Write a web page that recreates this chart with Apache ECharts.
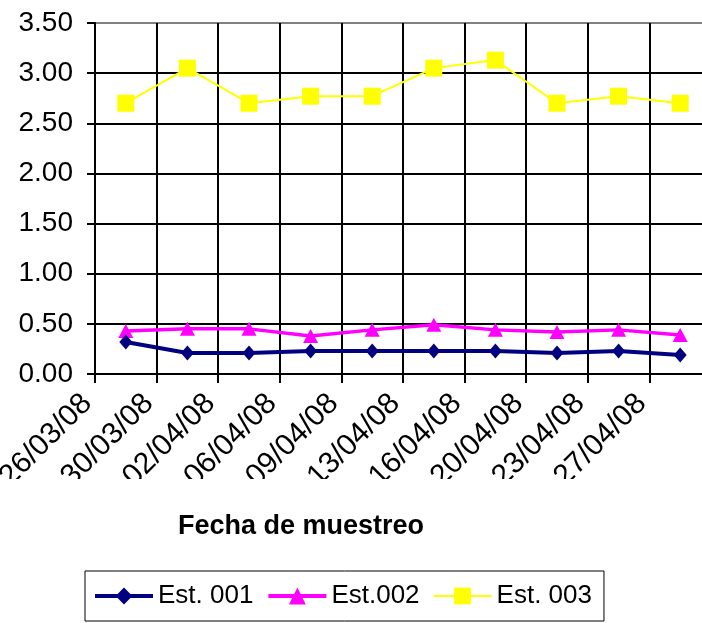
<!DOCTYPE html>
<html>
<head>
<meta charset="utf-8">
<script src="https://cdn.jsdelivr.net/npm/echarts@6/dist/echarts.min.js"></script>
<style>
  html, body { margin: 0; padding: 0; background: #fff; }
  #chart { width: 702px; height: 623px; }
</style>
</head>
<body>
<div id="chart"></div>
<script>
// Date tick labels sit on the boundaries between sampling slots
const tickDates = ['26/03/08', '30/03/08', '02/04/08', '06/04/08', '09/04/08',
                   '13/04/08', '16/04/08', '20/04/08', '23/04/08', '27/04/08'];
// One slot per sampling campaign
const samples = ['M1', 'M2', 'M3', 'M4', 'M5', 'M6', 'M7', 'M8', 'M9', 'M10'];

const est001 = [0.32, 0.21, 0.21, 0.23, 0.23, 0.23, 0.23, 0.21, 0.23, 0.19];
const est002 = [0.43, 0.45, 0.45, 0.38, 0.44, 0.49, 0.44, 0.42, 0.44, 0.39];
const est003 = [2.70, 3.05, 2.70, 2.77, 2.77, 3.05, 3.13, 2.70, 2.77, 2.70];

const FONT = 'Liberation Sans, Arial, sans-serif';

const chart = echarts.init(document.getElementById('chart'), null, { renderer: 'canvas' });

// horizontal grid: black lines, plot-area top edge in grey
const hLineColors = ['#000', '#000', '#000', '#000', '#000', '#000', '#000', '#808080'];

chart.setOption({
  animation: false,
  backgroundColor: '#fff',
  title: {
    text: 'Fecha de muestreo',
    left: 178,
    top: 513,
    padding: 0,
    textStyle: { fontFamily: FONT, fontSize: 27, fontWeight: 'bold', color: '#000' }
  },
  legend: {
    data: [
      { name: 'Est. 001', lineStyle: { width: 4 } },
      { name: 'Est.002', lineStyle: { width: 4 } },
      { name: 'Est. 003', lineStyle: { width: 2 } }
    ],
    left: 85,
    top: 571,
    orient: 'horizontal',
    padding: [12, 12, 12, 8],
    itemGap: 13,
    itemWidth: 58,
    itemHeight: 21,
    borderColor: '#000',
    borderWidth: 1,
    backgroundColor: '#fff',
    textStyle: { fontFamily: FONT, fontSize: 26, color: '#000' }
  },
  grid: {
    left: 95, right: -9, top: 23, bottom: 249,
    containLabel: false,
    outerBoundsMode: 'none'
  },
  xAxis: [
    {
      type: 'category',
      data: samples,
      boundaryGap: true,
      axisLine: { show: true, lineStyle: { color: '#000', width: 2 } },
      axisTick: { show: true, length: 9, lineStyle: { color: '#000', width: 2 } },
      axisLabel: { show: false },
      splitLine: { show: true, lineStyle: { color: '#000', width: 2 } }
    },
    {
      type: 'category',
      data: tickDates.concat(['']),
      boundaryGap: false,
      position: 'bottom',
      axisLine: { show: false },
      axisTick: { show: false },
      splitLine: { show: false },
      axisLabel: {
        interval: 0,
        rotate: 45,
        margin: 17,
        padding: [0, 11, 0, 0],
        fontFamily: FONT,
        fontSize: 30,
        color: '#000'
      }
    }
  ],
  yAxis: {
    type: 'value',
    min: 0,
    max: 3.5,
    interval: 0.5,
    axisLine: { show: true, lineStyle: { color: '#000', width: 2 } },
    axisTick: { show: true, length: 8, lineStyle: { color: '#000', width: 2 } },
    axisLabel: {
      margin: 22,
      fontFamily: FONT,
      fontSize: 28,
      color: '#000',
      formatter: v => v.toFixed(2)
    },
    splitLine: { show: true, lineStyle: { color: hLineColors, width: 2 } }
  },
  graphic: [
    {
      // clips the lower ends of the rotated date labels
      type: 'rect',
      left: 0,
      top: 479,
      z: 100,
      shape: { width: 702, height: 26 },
      style: { fill: '#fff' }
    }
  ],
  series: [
    {
      name: 'Est. 003',
      type: 'line',
      xAxisIndex: 0,
      data: est003,
      symbol: 'rect',
      symbolSize: 17,
      showAllSymbol: true,
      itemStyle: { color: '#FFFF00' },
      lineStyle: { color: '#FFFF00', width: 2 },
      z: 2
    },
    {
      name: 'Est.002',
      type: 'line',
      xAxisIndex: 0,
      data: est002,
      symbol: 'triangle',
      symbolSize: [15, 14],
      showAllSymbol: true,
      itemStyle: { color: '#FF00FF' },
      lineStyle: { color: '#FF00FF', width: 3.5 },
      z: 3
    },
    {
      name: 'Est. 001',
      type: 'line',
      xAxisIndex: 0,
      data: est001,
      symbol: 'diamond',
      symbolSize: [13, 15],
      showAllSymbol: true,
      itemStyle: { color: '#000080' },
      lineStyle: { color: '#000080', width: 4 },
      z: 4
    }
  ]
});
</script>
</body>
</html>
